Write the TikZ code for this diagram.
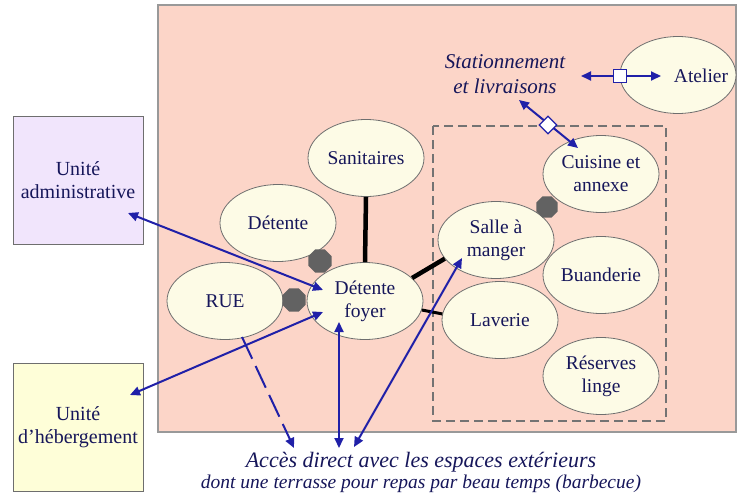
\documentclass[tikz,border=0pt]{standalone}
\usepackage{fontspec}
\setmainfont{Liberation Serif}
\usetikzlibrary{arrows.meta,shapes.geometric}
\definecolor{zonefill}{HTML}{FCD5C8}
\definecolor{ovalfill}{HTML}{FDFBE6}
\definecolor{ovalline}{HTML}{6E6E6E}
\definecolor{linkblue}{HTML}{2020A8}
\definecolor{inkblue}{HTML}{16165A}
\definecolor{adminfill}{HTML}{F1E5FC}
\definecolor{lodgefill}{HTML}{FEFED8}
\definecolor{joint}{HTML}{626262}
\tikzset{
  roomfont/.style={text=inkblue, align=center, font=\fontsize{19.5}{23}\selectfont},
  oval/.style={ellipse, draw=ovalline, fill=ovalfill, line width=0.8pt,
    minimum width=116pt, minimum height=77pt, inner sep=0pt, roomfont},
  unitbox/.style={rectangle, draw=ovalline, line width=0.9pt,
    minimum width=130pt, minimum height=128pt, inner sep=0pt,
    text=inkblue, align=center, font=\fontsize{20}{23}\selectfont},
  jointmark/.style={regular polygon, regular polygon sides=8, fill=joint,
    minimum size=25pt, inner sep=0pt},
  solidlink/.style={line width=4.5pt, black},
  bluelink/.style={draw=linkblue, line width=2pt,
    arrows={Triangle[length=10pt,width=9pt]-Triangle[length=10pt,width=9pt]}},
  bluelinkend/.style={draw=linkblue, line width=2pt,
    arrows={-Triangle[length=10pt,width=9pt]}},
  caption/.style={text=inkblue, align=center, inner sep=0pt}
}
\begin{document}
\begin{tikzpicture}[x=1pt,y=-1pt]
\useasboundingbox (0,0) rectangle (741,495);

% site area and its service zone
\draw[draw=gray!80, line width=1.2pt, fill=zonefill] (158,5) rectangle (736,432);
\draw[draw=gray!90!black, line width=1.6pt, dash pattern=on 9pt off 5pt] (433,126) rectangle (666,421);

% external units
\node[unitbox, fill=adminfill] (admin) at (78,180) {Unité\\administrative};
\node[unitbox, fill=lodgefill] (lodge) at (78,427) {Unité\\d'hébergement};

% rooms
\node[oval] (atelier) at (678,75) {};
\node[roomfont, inner sep=0pt] (atelierlbl) at (701,76) {Atelier};
\node[oval] (san) at (366,158) {Sanitaires};
\node[oval] (det) at (278,223) {Détente};
\node[oval] (rue) at (225,301) {RUE};
\node[oval] (foyer) at (365,301) {Détente\\foyer};
\node[oval] (cuisine) at (601,174) {Cuisine et\\annexe};
\node[oval] (salle) at (496,240) {Salle à\\manger};
\node[oval] (buand) at (601,275) {Buanderie};
\node[oval] (laverie) at (500,320) {Laverie};
\node[oval] (reserves) at (601,376) {Réserves\\linge};

% entrance joints
\node[jointmark] (j1) at (320,261) {};
\node[jointmark] (j2) at (294,300) {};
\node[jointmark, minimum size=23pt] (j3) at (547,207) {};

% direct internal links
\draw[solidlink] (san.south) -- (foyer.north);
\draw[solidlink] (foyer.26) -- (salle.200);
\draw[solidlink, line width=3pt] (foyer.351) -- (laverie.174);

% captions
\node[caption, font=\itshape\fontsize{21}{25}\selectfont] (parking) at (505,74) {Stationnement\\et livraisons};
\node[caption, font=\itshape\fontsize{22}{25}\selectfont] (outside) at (421,462) {Accès direct avec les espaces extérieurs};
\node[caption, font=\itshape\fontsize{19.5}{22}\selectfont] (terrace) at (421,484) {dont une terrasse pour repas par beau temps (barbecue)};

% arrow end points
\coordinate (adminTip) at (128,213);
\coordinate (foyerA) at (323,290);
\coordinate (lodgeTip) at (130,395);
\coordinate (foyerB) at (323,312);
\coordinate (foyerC) at (339,322);
\coordinate (outA) at (339,448);
\coordinate (outB) at (354,447);
\coordinate (salleTip) at (462,258);
\coordinate (rueStart) at (242,337);
\coordinate (outC) at (294,448);
\coordinate (parkE) at (581,76);
\coordinate (atelierW) at (661,76);
\coordinate (parkS) at (519,100);
\coordinate (cuisineN) at (578,148);

% circulation links
\draw[bluelink] (adminTip) -- (foyerA);
\draw[bluelink] (lodgeTip) -- (foyerB);
\draw[bluelink] (foyerC) -- (outA);
\draw[bluelink] (outB) -- (salleTip);
\draw[bluelinkend, dash pattern=on 24pt off 8pt] (rueStart) -- (outC);
\draw[bluelink] (parkE) -- (atelierW);
\draw[bluelink] (parkS) -- (cuisineN);

% link markers
\node[rectangle, draw=linkblue, fill=white, line width=1.2pt, minimum width=13pt, minimum height=13pt, inner sep=0pt] (sq) at (620,76) {};
\node[diamond, draw=linkblue, fill=white, line width=1.2pt, minimum size=18pt, inner sep=0pt] (dm) at (548,125) {};
\end{tikzpicture}
\end{document}
